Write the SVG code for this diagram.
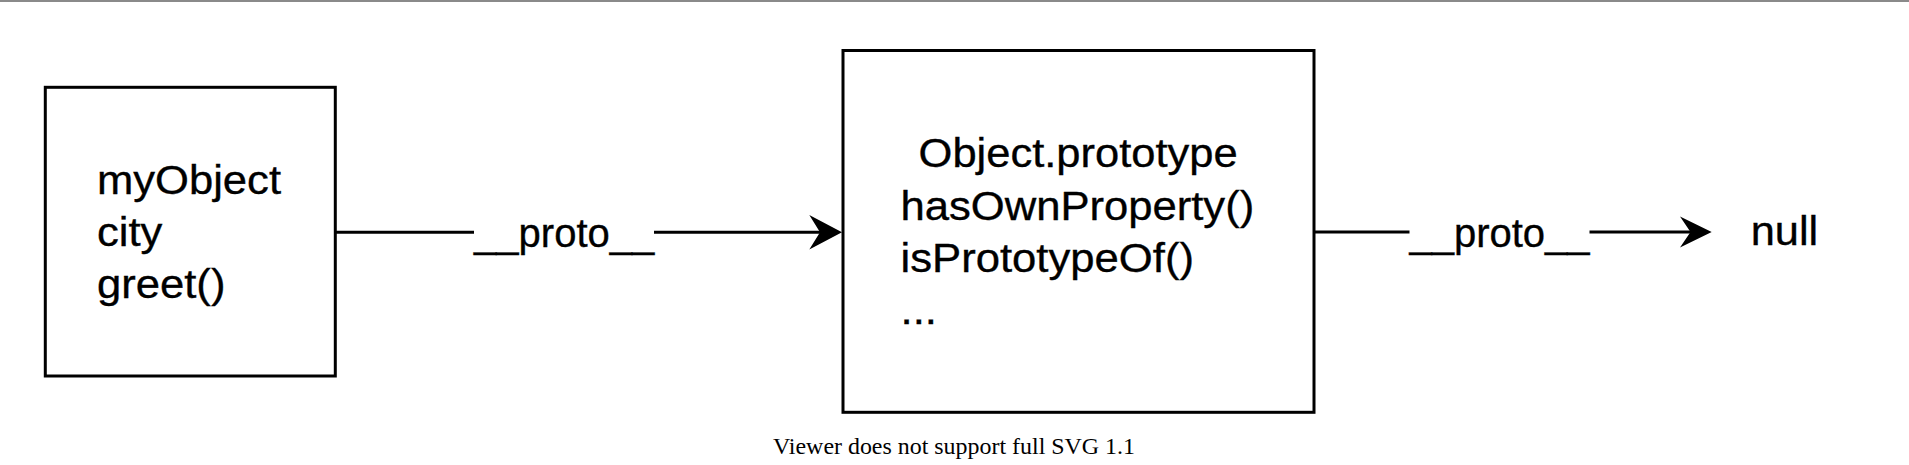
<svg xmlns="http://www.w3.org/2000/svg" width="1909" height="465" viewBox="0 0 1909 465">
  <style>
    .box { fill: #ffffff; stroke: #000000; stroke-width: 3; }
    .edge { fill: none; stroke: #000000; stroke-width: 3; }
    .head { fill: #000000; stroke: none; }
    .t { font-family: "Liberation Sans", Arial, sans-serif; font-size: 40px; fill: #000000; stroke: #000000; stroke-width: 0.35; }
    .lbl { font-family: "Liberation Sans", Arial, sans-serif; font-size: 40px; fill: #000000; stroke: #000000; stroke-width: 0.35; text-anchor: middle; }
    .lblbg { fill: #ffffff; stroke: none; }
    .note { font-family: "Liberation Serif", "Times New Roman", serif; font-size: 23px; fill: #000000; }
  </style>
  <rect x="0" y="0" width="1909" height="465" fill="#ffffff"/>
  <rect x="0" y="0" width="1909" height="2" fill="#8a8a8a"/>

  <g id="connectors">
    <g id="edge-myObject-proto">
      <line class="edge" x1="335.3" y1="232.3" x2="822" y2="232.3"/>
      <polygon class="head" points="842,232.3 809.3,215 820,232.3 809.3,249.6"/>
      <rect class="lblbg" x="474" y="222" width="180" height="22"/>
      <text class="lbl" x="564.2" y="246.7">__proto__</text>
    </g>
    <g id="edge-proto-null">
      <line class="edge" x1="1314" y1="232" x2="1692" y2="232"/>
      <polygon class="head" points="1711.7,232 1680,216.5 1690.5,232 1680,247.5"/>
      <rect class="lblbg" x="1409.5" y="222" width="180" height="22"/>
      <text class="lbl" x="1499.5" y="246.7">__proto__</text>
    </g>
  </g>

  <g id="node-myObject">
    <rect class="box" x="45.3" y="87.3" width="290" height="288.7"/>
    <text class="t" x="97" y="194.3" textLength="184" lengthAdjust="spacingAndGlyphs">myObject</text>
    <text class="t" x="97" y="246" textLength="65.4" lengthAdjust="spacingAndGlyphs">city</text>
    <text class="t" x="97" y="297.7" textLength="128.4" lengthAdjust="spacingAndGlyphs">greet()</text>
  </g>

  <g id="node-objectPrototype">
    <rect class="box" x="843" y="50.5" width="471" height="361.8"/>
    <text class="t" x="918.6" y="167.3" textLength="319" lengthAdjust="spacingAndGlyphs">Object.prototype</text>
    <text class="t" x="900.5" y="219.5" textLength="353.7" lengthAdjust="spacingAndGlyphs">hasOwnProperty()</text>
    <text class="t" x="900.5" y="271.7" textLength="293.5" lengthAdjust="spacingAndGlyphs">isPrototypeOf()</text>
    <text class="t" x="900.5" y="323.9" textLength="36.4" lengthAdjust="spacingAndGlyphs">...</text>
  </g>

  <g id="node-null">
    <text class="t" x="1750.7" y="245" textLength="67.5" lengthAdjust="spacingAndGlyphs">null</text>
  </g>

  <g id="note">
    <text class="note" x="773" y="454" textLength="362" lengthAdjust="spacingAndGlyphs">Viewer does not support full SVG 1.1</text>
  </g>
</svg>
